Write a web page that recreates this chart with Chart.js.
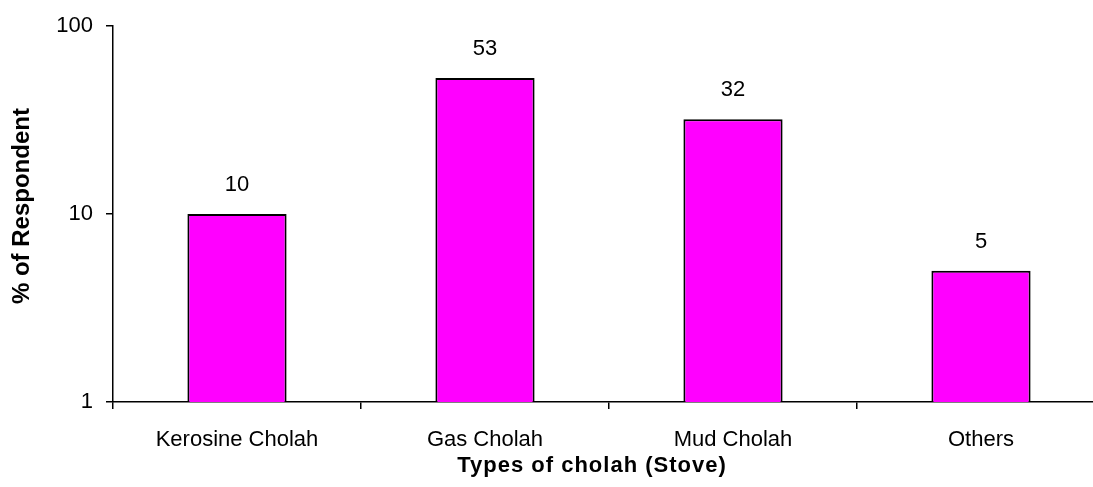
<!DOCTYPE html>
<html>
<head>
<meta charset="utf-8">
<script src="https://cdn.jsdelivr.net/npm/chart.js@4/dist/chart.umd.min.js"></script>
<style>
html,body{margin:0;padding:0;background:#fff;overflow:hidden;width:1093px;height:487px;}
#wrap{position:absolute;left:0;top:0;width:1110px;height:487px;}
</style>
</head>
<body>
<div id="wrap"><canvas id="c" width="1110" height="487"></canvas></div>
<script>
const categories = ["Kerosine Cholah", "Gas Cholah", "Mud Cholah", "Others"];
const percentRespondent = [10, 53, 32, 5];
const yTickValues = [1, 10, 100];
const xTitle = "Types of cholah (Stove)";
const yTitle = "% of Respondent";

const FONT = "'Liberation Sans', Arial, sans-serif";

const valueLabels = {
  id: 'valueLabels',
  afterDatasetsDraw(chart) {
    const ctx = chart.ctx;
    const meta = chart.getDatasetMeta(0);
    ctx.save();
    ctx.font = "22px " + FONT;
    ctx.fillStyle = "#000";
    ctx.textAlign = "center";
    ctx.textBaseline = "middle";
    meta.data.forEach((bar, i) => {
      ctx.fillText(String(chart.data.datasets[0].data[i]), bar.x, bar.y - 29);
    });
    ctx.restore();
  }
};

const axisTitles = {
  id: 'axisTitles',
  afterDraw(chart) {
    const ctx = chart.ctx;
    const area = chart.chartArea;
    ctx.save();
    ctx.fillStyle = "#000";
    ctx.textAlign = "center";
    ctx.textBaseline = "middle";
    ctx.font = "bold 22px " + FONT;
    try { ctx.letterSpacing = "1px"; } catch (e) {}
    ctx.fillText(xTitle, 592, 466);
    try { ctx.letterSpacing = "0px"; } catch (e) {}
    ctx.font = "bold 24px " + FONT;
    ctx.translate(22, (area.top + area.bottom) / 2 - 8);
    ctx.rotate(-Math.PI / 2);
    ctx.fillText(yTitle, 0, 0);
    ctx.restore();
  }
};

new Chart(document.getElementById('c'), {
  type: 'bar',
  data: {
    labels: categories,
    datasets: [{
      data: percentRespondent,
      backgroundColor: '#FF00FF',
      borderColor: '#000',
      borderWidth: 2,
      barPercentage: 0.4,
      categoryPercentage: 1.0
    }]
  },
  options: {
    responsive: false,
    animation: false,
    devicePixelRatio: 1,
    layout: { padding: { top: 25, right: 5, left: 0, bottom: 0 } },
    plugins: { legend: { display: false }, tooltip: { enabled: false } },
    scales: {
      x: {
        offset: true,
        afterFit(s) { s.height = 85; },
        grid: { display: true, offset: true, drawOnChartArea: false, drawTicks: true, tickLength: 7, color: '#000', lineWidth: 1.5 },
        border: { display: true, color: '#000', width: 1.5 },
        ticks: { color: '#000', font: { family: FONT, size: 22 }, padding: 18, maxRotation: 0 }
      },
      y: {
        type: 'logarithmic',
        min: 1,
        max: 100,
        afterFit(s) { s.width = 113; },
        afterBuildTicks(s) { s.ticks = yTickValues.map(v => ({ value: v })); },
        grid: { display: true, drawOnChartArea: false, drawTicks: true, tickLength: 7, color: '#000', lineWidth: 1.5 },
        border: { display: true, color: '#000', width: 1.5 },
        ticks: { color: '#000', font: { family: FONT, size: 22 }, padding: 13, callback: v => String(v) }
      }
    }
  },
  plugins: [valueLabels, axisTitles]
});
</script>
</body>
</html>
